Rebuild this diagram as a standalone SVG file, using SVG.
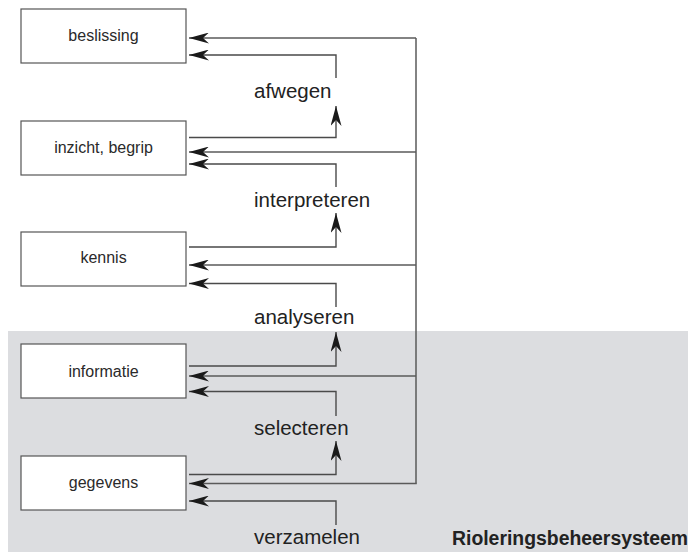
<svg xmlns="http://www.w3.org/2000/svg" width="688" height="552" viewBox="0 0 688 552">
  <style>
    .box { fill: #ffffff; stroke: #555555; stroke-width: 1.2; }
    .bt { font-family: "Liberation Sans", Arial, sans-serif; font-size: 16px; fill: #2a2a2a; text-anchor: middle; }
    .lbl { font-family: "Liberation Sans", Arial, sans-serif; font-size: 20.5px; fill: #222222; }
    .ttl { font-family: "Liberation Sans", Arial, sans-serif; font-size: 19.4px; font-weight: bold; fill: #222222; }
    .ln { fill: none; stroke: #4a4a4a; stroke-width: 1.4; }
    .fb { fill: none; stroke: #5a5a5a; stroke-width: 1.5; }
    .arr { marker-end: url(#ah); }
  </style>
  <defs>
    <marker id="ah" viewBox="0 0 20 11" refX="20" refY="5.5" markerWidth="20" markerHeight="11" markerUnits="userSpaceOnUse" orient="auto">
      <path d="M20,5.5 L0,0 L6,5.5 L0,11 Z" fill="#1a1a1a"/>
    </marker>
  </defs>

  <rect id="systeem-bg" x="8" y="331" width="680" height="221" fill="#dcdde0"/>

  <g id="connectors">
    <path class="fb" d="M416,38 V483.5"/>
    <path class="fb arr" d="M416,38 H189"/>
    <path class="fb arr" d="M416,152 H189"/>
    <path class="fb arr" d="M416,265 H189"/>
    <path class="fb arr" d="M416,376 H189"/>
    <path class="fb arr" d="M416.75,483.5 H189"/>
    <path class="ln arr" d="M336,78 V55 H189"/>
    <path class="ln arr" d="M336,187 V164 H189"/>
    <path class="ln arr" d="M336,307 V283.5 H189"/>
    <path class="ln arr" d="M336,416 V391.5 H189"/>
    <path class="ln arr" d="M336,525 V501 H189"/>
    <path class="ln arr" d="M189,137.5 H336 V106"/>
    <path class="ln arr" d="M189,247 H336 V213"/>
    <path class="ln arr" d="M189,366 H336 V332"/>
    <path class="ln arr" d="M189,474.5 H336 V441"/>
  </g>

  <g id="beslissing">
    <rect class="box" x="21" y="9" width="165" height="54"/>
    <text class="bt" x="103.5" y="41">beslissing</text>
  </g>
  <g id="inzicht-begrip">
    <rect class="box" x="21" y="121" width="165" height="54"/>
    <text class="bt" x="103.5" y="153">inzicht, begrip</text>
  </g>
  <g id="kennis">
    <rect class="box" x="21" y="232" width="165" height="54"/>
    <text class="bt" x="103.5" y="263">kennis</text>
  </g>
  <g id="informatie">
    <rect class="box" x="21" y="344" width="165" height="54"/>
    <text class="bt" x="103.5" y="376.5">informatie</text>
  </g>
  <g id="gegevens">
    <rect class="box" x="21" y="456" width="165" height="54"/>
    <text class="bt" x="103.5" y="488">gegevens</text>
  </g>

  <g id="labels">
    <text class="lbl" x="254" y="98">afwegen</text>
    <text class="lbl" x="254" y="207">interpreteren</text>
    <text class="lbl" x="254" y="324">analyseren</text>
    <text class="lbl" x="254" y="434.5">selecteren</text>
    <text class="lbl" x="254" y="544">verzamelen</text>
  </g>

  <text id="systeem-title" class="ttl" x="452" y="545">Rioleringsbeheersysteem</text>
</svg>
